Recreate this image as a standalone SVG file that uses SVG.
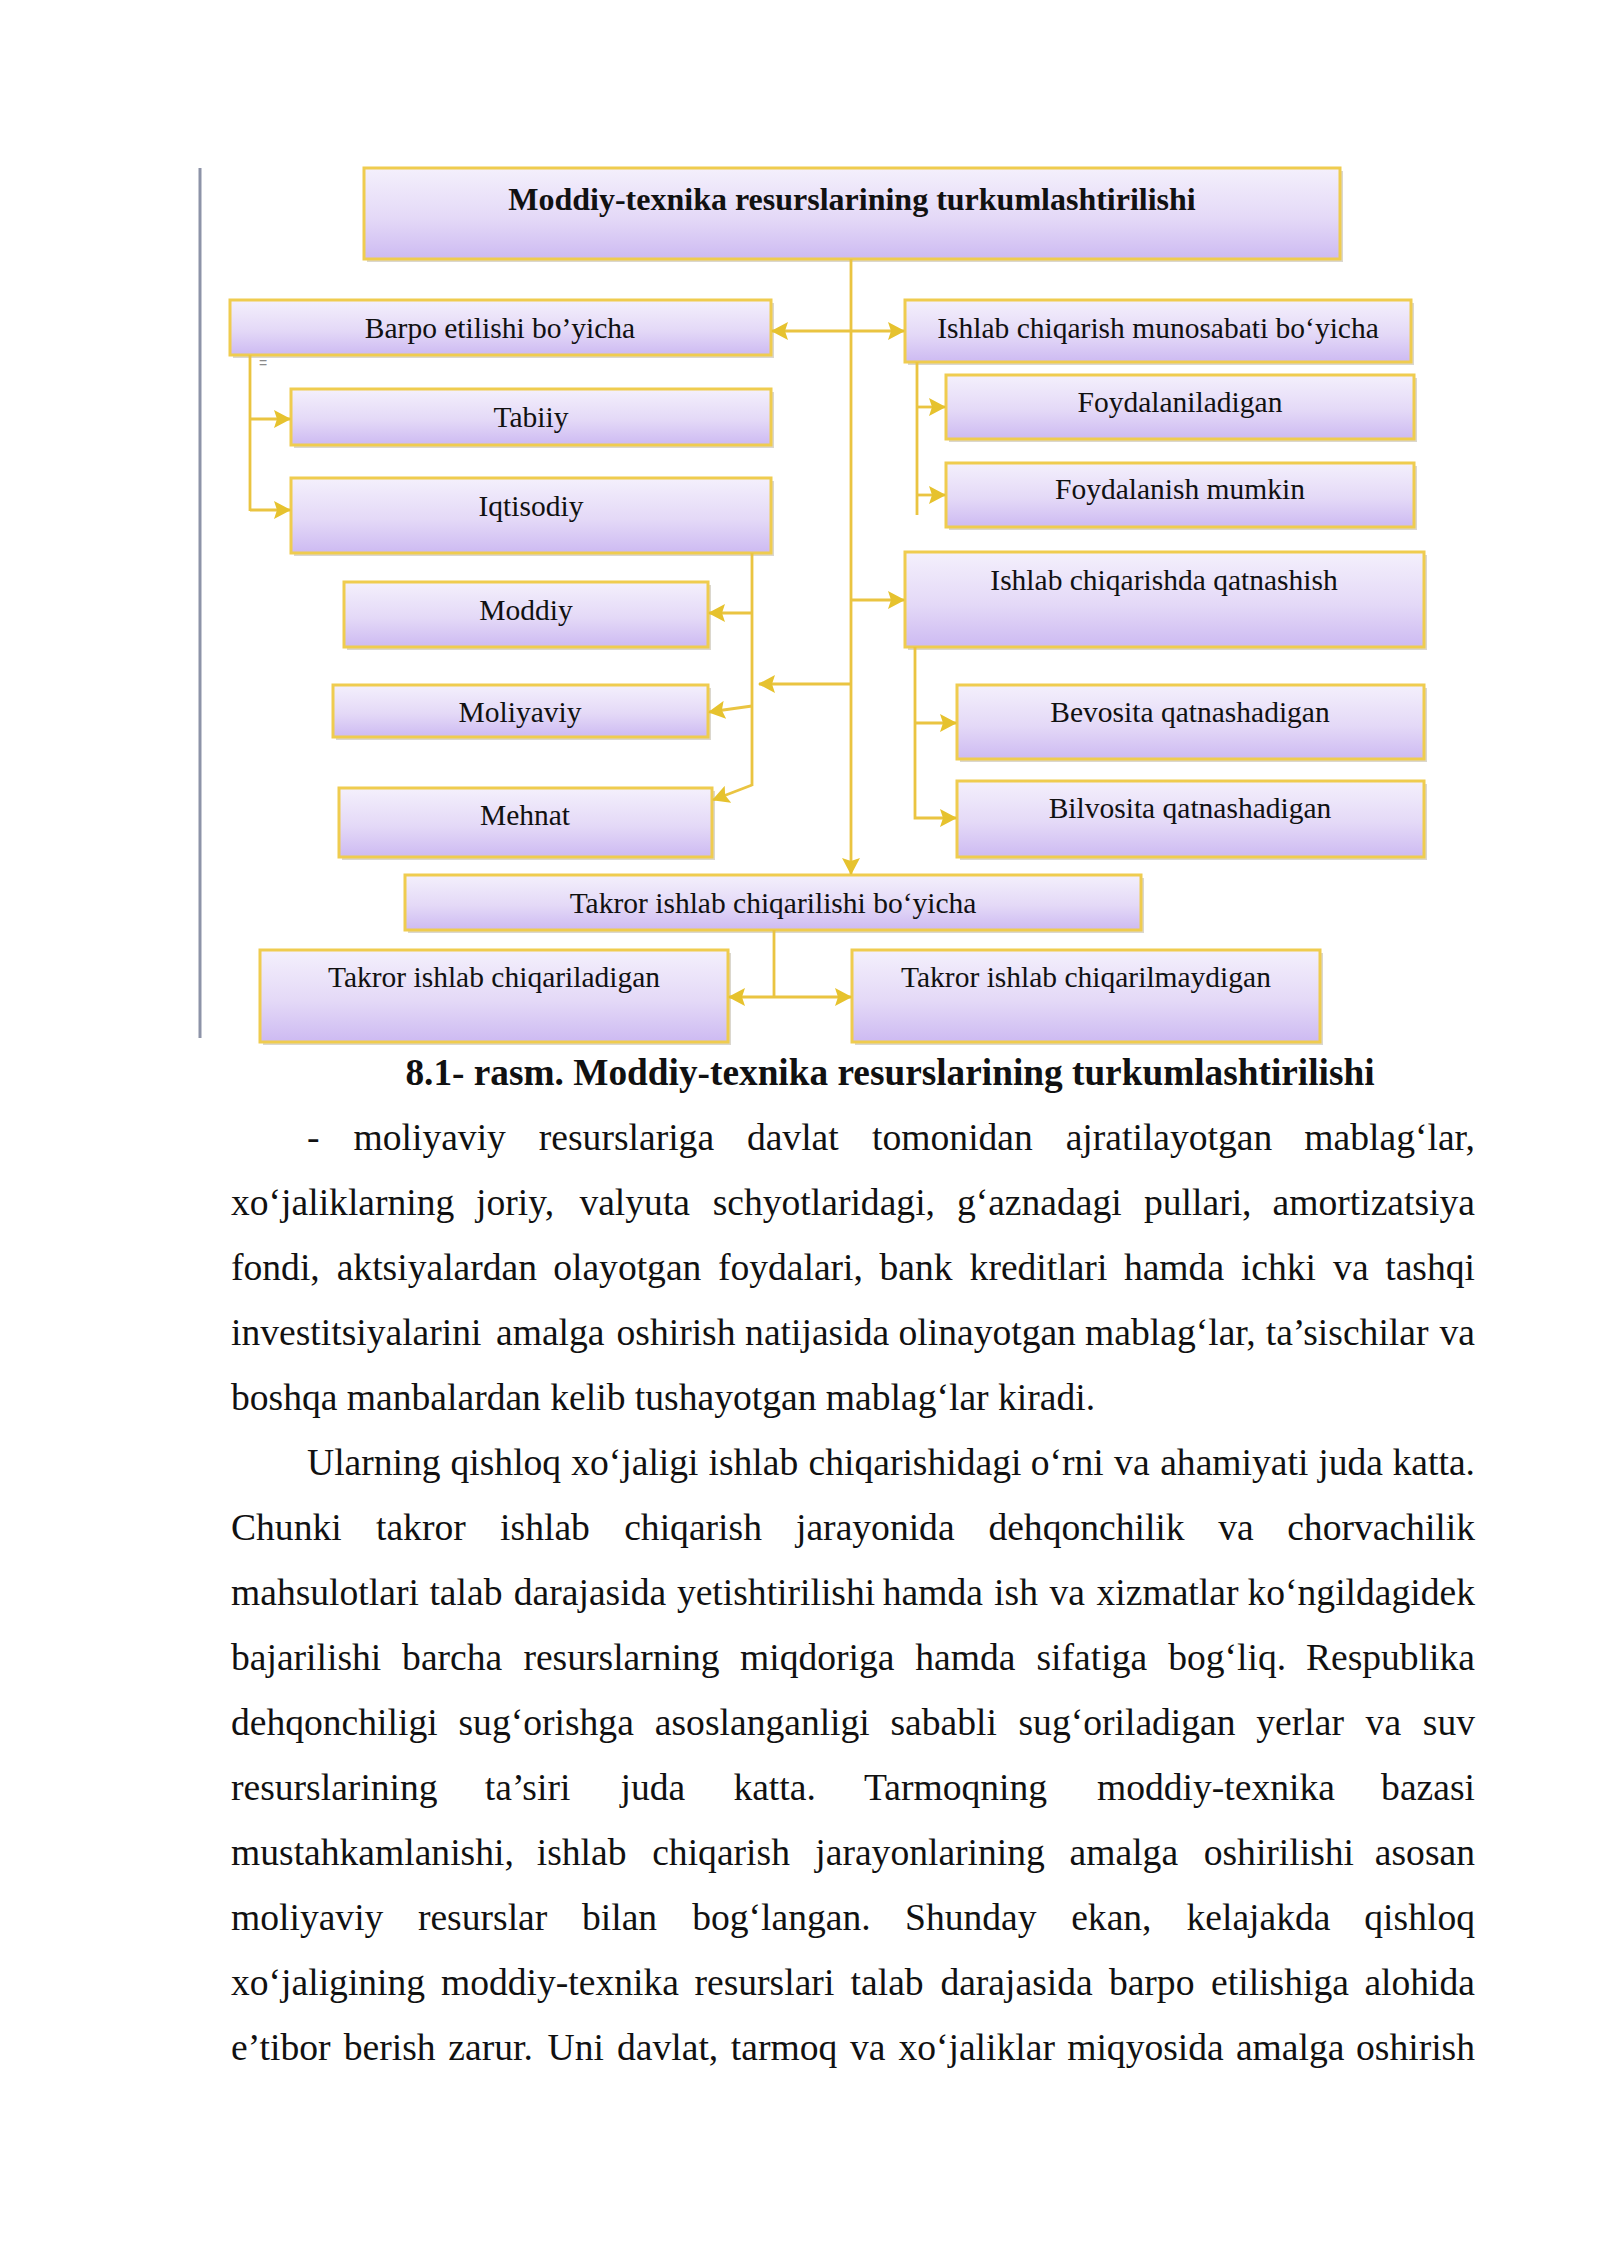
<svg xmlns="http://www.w3.org/2000/svg" width="1600" height="2262" viewBox="0 0 1600 2262">
<defs>
<linearGradient id="boxfill" x1="0" y1="0" x2="0" y2="1">
<stop offset="0" stop-color="#f4f0fc"/>
<stop offset="0.55" stop-color="#e4d9f7"/>
<stop offset="1" stop-color="#cdbaf2"/>
</linearGradient>
<marker id="ah" markerUnits="userSpaceOnUse" markerWidth="18" markerHeight="18" refX="16" refY="9" orient="auto-start-reverse">
<path d="M0,0 L17,9 L0,18 L3,9 z" fill="#e6c22e"/>
</marker>
</defs>
<style>
.box rect.s{fill:#bdb6a6;opacity:0.55}
.box rect.b{fill:url(#boxfill);stroke:#efcc4f;stroke-width:3}
.box text{font-family:"Liberation Serif","Times New Roman",serif;font-size:29.5px;fill:#111;text-anchor:middle}
.box text.title{font-weight:bold;font-size:32px}
.con line,.con polyline{stroke:#eac441;stroke-width:2.8;fill:none}
.body{font-family:"Liberation Serif","Times New Roman",serif;font-size:37.6px;fill:#111}
.body tspan.e{text-anchor:end}
.cap{font-family:"Liberation Serif","Times New Roman",serif;font-size:37.3px;font-weight:bold;fill:#111;text-anchor:middle}
</style>
<rect width="1600" height="2262" fill="#ffffff"/>
<line x1="200" y1="168" x2="200" y2="1038" stroke="#8d93a8" stroke-width="3"/>

<g id="n-top" class="box"><rect class="s" x="367" y="171" width="976" height="91"/><rect class="b" x="364" y="168" width="976" height="91"/><text class="title" x="852" y="210">Moddiy-texnika resurslarining turkumlashtirilishi</text></g>
<g id="n-barpo" class="box"><rect class="s" x="233" y="303" width="541" height="55"/><rect class="b" x="230" y="300" width="541" height="55"/><text x="500" y="338">Barpo etilishi bo’yicha</text></g>
<g id="n-munosabat" class="box"><rect class="s" x="908" y="303" width="506" height="62"/><rect class="b" x="905" y="300" width="506" height="62"/><text x="1158" y="338">Ishlab chiqarish munosabati bo‘yicha</text></g>
<g id="n-tabiiy" class="box"><rect class="s" x="294" y="392" width="480" height="56"/><rect class="b" x="291" y="389" width="480" height="56"/><text x="531" y="427">Tabiiy</text></g>
<g id="n-iqtisodiy" class="box"><rect class="s" x="294" y="481" width="480" height="75"/><rect class="b" x="291" y="478" width="480" height="75"/><text x="531" y="516">Iqtisodiy</text></g>
<g id="n-foyd1" class="box"><rect class="s" x="949" y="378" width="468" height="64"/><rect class="b" x="946" y="375" width="468" height="64"/><text x="1180" y="412">Foydalaniladigan</text></g>
<g id="n-foyd2" class="box"><rect class="s" x="949" y="466" width="468" height="64"/><rect class="b" x="946" y="463" width="468" height="64"/><text x="1180" y="499">Foydalanish mumkin</text></g>
<g id="n-qatnash" class="box"><rect class="s" x="908" y="555" width="519" height="95"/><rect class="b" x="905" y="552" width="519" height="95"/><text x="1164" y="590">Ishlab chiqarishda qatnashish</text></g>
<g id="n-moddiy" class="box"><rect class="s" x="347" y="585" width="364" height="65"/><rect class="b" x="344" y="582" width="364" height="65"/><text x="526" y="620">Moddiy</text></g>
<g id="n-moliyaviy" class="box"><rect class="s" x="336" y="688" width="375" height="52"/><rect class="b" x="333" y="685" width="375" height="52"/><text x="520" y="722">Moliyaviy</text></g>
<g id="n-mehnat" class="box"><rect class="s" x="342" y="791" width="373" height="69"/><rect class="b" x="339" y="788" width="373" height="69"/><text x="525" y="825">Mehnat</text></g>
<g id="n-bevosita" class="box"><rect class="s" x="960" y="688" width="467" height="74"/><rect class="b" x="957" y="685" width="467" height="74"/><text x="1190" y="722">Bevosita qatnashadigan</text></g>
<g id="n-bilvosita" class="box"><rect class="s" x="960" y="784" width="467" height="76"/><rect class="b" x="957" y="781" width="467" height="76"/><text x="1190" y="818">Bilvosita qatnashadigan</text></g>
<g id="n-takror" class="box"><rect class="s" x="408" y="878" width="736" height="55"/><rect class="b" x="405" y="875" width="736" height="55"/><text x="773" y="913">Takror ishlab chiqarilishi bo‘yicha</text></g>
<g id="n-takror-l" class="box"><rect class="s" x="263" y="953" width="468" height="92"/><rect class="b" x="260" y="950" width="468" height="92"/><text x="494" y="987">Takror ishlab chiqariladigan</text></g>
<g id="n-takror-r" class="box"><rect class="s" x="855" y="953" width="468" height="92"/><rect class="b" x="852" y="950" width="468" height="92"/><text x="1086" y="987">Takror ishlab chiqarilmaydigan</text></g>

<g id="connectors" class="con">
<line x1="851" y1="259" x2="851" y2="874" marker-end="url(#ah)"/>
<line x1="772" y1="331" x2="904" y2="331" marker-start="url(#ah)" marker-end="url(#ah)"/>
<line x1="250" y1="355" x2="250" y2="511"/>
<line x1="250" y1="419" x2="290" y2="419" marker-end="url(#ah)"/>
<line x1="250" y1="510" x2="290" y2="510" marker-end="url(#ah)"/>
<line x1="917" y1="362" x2="917" y2="515"/>
<line x1="917" y1="407" x2="945" y2="407" marker-end="url(#ah)"/>
<line x1="917" y1="495" x2="945" y2="495" marker-end="url(#ah)"/>
<line x1="851" y1="600" x2="904" y2="600" marker-end="url(#ah)"/>
<polyline points="915,647 915,818 956,818" marker-end="url(#ah)"/>
<line x1="915" y1="723" x2="956" y2="723" marker-end="url(#ah)"/>
<line x1="851" y1="684" x2="759" y2="684" marker-end="url(#ah)"/>
<line x1="752" y1="553" x2="752" y2="786"/>
<line x1="752" y1="613" x2="709" y2="613" marker-end="url(#ah)"/>
<line x1="752" y1="706" x2="709" y2="712" marker-end="url(#ah)"/>
<line x1="752" y1="785" x2="713" y2="800" marker-end="url(#ah)"/>
<line x1="774" y1="930" x2="774" y2="997"/>
<line x1="729" y1="997" x2="851" y2="997" marker-start="url(#ah)" marker-end="url(#ah)"/>
</g>

<text x="259" y="368" font-family="Liberation Sans, sans-serif" font-size="14" fill="#8a8a8a">=</text>

<text class="cap" x="890" y="1085">8.1- rasm. Moddiy-texnika resurslarining turkumlashtirilishi</text>

<g id="body">
<text class="body" y="1150"><tspan x="307">-</tspan><tspan x="353.5">moliyaviy</tspan><tspan x="538.8">resurslariga</tspan><tspan x="746.9">davlat</tspan><tspan x="872.1">tomonidan</tspan><tspan x="1065.7">ajratilayotgan</tspan><tspan class="e" x="1475">mablag‘lar,</tspan></text>
<text class="body" y="1215"><tspan x="231">xo‘jaliklarning</tspan><tspan x="476.1">joriy,</tspan><tspan x="579.4">valyuta</tspan><tspan x="712.7">schyotlaridagi,</tspan><tspan x="956.9">g‘aznadagi</tspan><tspan x="1144">pullari,</tspan><tspan class="e" x="1475">amortizatsiya</tspan></text>
<text class="body" y="1280"><tspan x="231">fondi,</tspan><tspan x="336.7">aktsiyalardan</tspan><tspan x="553.2">olayotgan</tspan><tspan x="717.9">foydalari,</tspan><tspan x="879.5">bank</tspan><tspan x="969.6">kreditlari</tspan><tspan x="1123.9">hamda</tspan><tspan x="1240.9">ichki</tspan><tspan x="1333.1">va</tspan><tspan class="e" x="1475">tashqi</tspan></text>
<text class="body" y="1345"><tspan x="231">investitsiyalarini</tspan><tspan x="496">amalga</tspan><tspan x="616.5">oshirish</tspan><tspan x="745.1">natijasida</tspan><tspan x="898.5">olinayotgan</tspan><tspan x="1085.1">mablag‘lar,</tspan><tspan x="1265.7">ta’sischilar</tspan><tspan class="e" x="1475">va</tspan></text>
<text class="body" x="231" y="1410">boshqa manbalardan kelib tushayotgan mablag‘lar kiradi.</text>
<text class="body" y="1475"><tspan x="307">Ularning</tspan><tspan x="450.5">qishloq</tspan><tspan x="571.2">xo‘jaligi</tspan><tspan x="708.5">ishlab</tspan><tspan x="808.5">chiqarishidagi</tspan><tspan x="1030.7">o‘rni</tspan><tspan x="1114.1">va</tspan><tspan x="1160.2">ahamiyati</tspan><tspan x="1318.2">juda</tspan><tspan class="e" x="1475">katta.</tspan></text>
<text class="body" y="1540"><tspan x="231">Chunki</tspan><tspan x="376">takror</tspan><tspan x="500.1">ishlab</tspan><tspan x="624.2">chiqarish</tspan><tspan x="796">jarayonida</tspan><tspan x="988.4">dehqonchilik</tspan><tspan x="1218.2">va</tspan><tspan class="e" x="1475">chorvachilik</tspan></text>
<text class="body" y="1605"><tspan x="231">mahsulotlari</tspan><tspan x="429.4">talab</tspan><tspan x="513.8">darajasida</tspan><tspan x="676.9">yetishtirilishi</tspan><tspan x="882.8">hamda</tspan><tspan x="994.1">ish</tspan><tspan x="1049.4">va</tspan><tspan x="1096.5">xizmatlar</tspan><tspan class="e" x="1475">ko‘ngildagidek</tspan></text>
<text class="body" y="1670"><tspan x="231">bajarilishi</tspan><tspan x="402.1">barcha</tspan><tspan x="523.4">resurslarning</tspan><tspan x="740">miqdoriga</tspan><tspan x="915.2">hamda</tspan><tspan x="1036.5">sifatiga</tspan><tspan x="1168.2">bog‘liq.</tspan><tspan class="e" x="1475">Respublika</tspan></text>
<text class="body" y="1735"><tspan x="231">dehqonchiligi</tspan><tspan x="458.5">sug‘orishga</tspan><tspan x="654.8">asoslanganligi</tspan><tspan x="890.5">sababli</tspan><tspan x="1018.5">sug‘oriladigan</tspan><tspan x="1256.3">yerlar</tspan><tspan x="1365.6">va</tspan><tspan class="e" x="1475">suv</tspan></text>
<text class="body" y="1800"><tspan x="231">resurslarining</tspan><tspan x="484.8">ta’siri</tspan><tspan x="620.5">juda</tspan><tspan x="733.4">katta.</tspan><tspan x="863.9">Tarmoqning</tspan><tspan x="1097">moddiy-texnika</tspan><tspan class="e" x="1475">bazasi</tspan></text>
<text class="body" y="1865"><tspan x="231">mustahkamlanishi,</tspan><tspan x="536.7">ishlab</tspan><tspan x="652.2">chiqarish</tspan><tspan x="815.3">jarayonlarining</tspan><tspan x="1069.6">amalga</tspan><tspan x="1203.7">oshirilishi</tspan><tspan class="e" x="1475">asosan</tspan></text>
<text class="body" y="1930"><tspan x="231">moliyaviy</tspan><tspan x="417.9">resurslar</tspan><tspan x="582">bilan</tspan><tspan x="692.2">bog‘langan.</tspan><tspan x="905">Shunday</tspan><tspan x="1071.2">ekan,</tspan><tspan x="1186.5">kelajakda</tspan><tspan class="e" x="1475">qishloq</tspan></text>
<text class="body" y="1995"><tspan x="231">xo‘jaligining</tspan><tspan x="441">moddiy-texnika</tspan><tspan x="694.5">resurslari</tspan><tspan x="850.6">talab</tspan><tspan x="940.4">darajasida</tspan><tspan x="1108.9">barpo</tspan><tspan x="1211.1">etilishiga</tspan><tspan class="e" x="1475">alohida</tspan></text>
<text class="body" y="2060"><tspan x="231">e’tibor</tspan><tspan x="343.8">berish</tspan><tspan x="448.3">zarur.</tspan><tspan x="547.6">Uni</tspan><tspan x="617">davlat,</tspan><tspan x="730.8">tarmoq</tspan><tspan x="849.9">va</tspan><tspan x="898.4">xo‘jaliklar</tspan><tspan x="1067.2">miqyosida</tspan><tspan x="1235.9">amalga</tspan><tspan class="e" x="1475">oshirish</tspan></text>
</g>
</svg>
